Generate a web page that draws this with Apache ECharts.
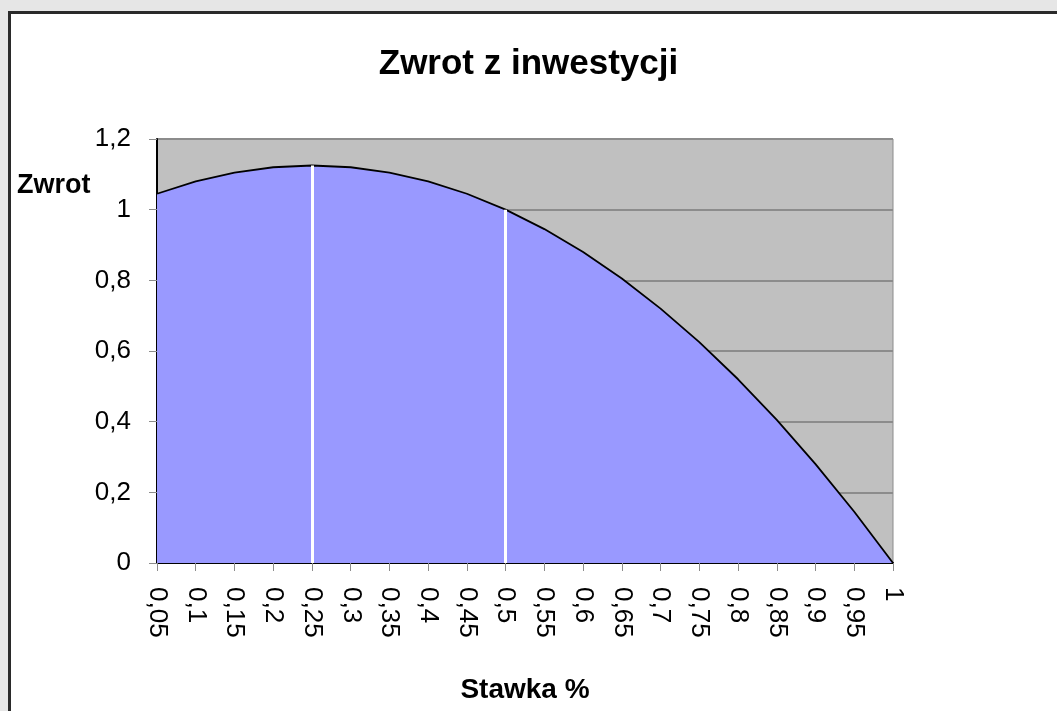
<!DOCTYPE html>
<html>
<head>
<meta charset="utf-8">
<title>Zwrot z inwestycji</title>
<script src="https://cdn.jsdelivr.net/npm/echarts@6/dist/echarts.min.js"></script>
<style>
    body { margin: 0; background: #e6e6e6; overflow: hidden; }
    #frame {
        position: absolute; left: 8px; top: 11px; width: 1060px; height: 710px;
        background: #ffffff; border-top: 3px solid #2a2a2a; border-left: 3px solid #2a2a2a;
    }
    #chart { position: absolute; left: 0; top: 0; width: 1057px; height: 711px; }
</style>
</head>
<body>
<div id="frame"></div>
<div id="chart"></div>
<script>
// Chart data
const stawki = ['0,05', '0,1', '0,15', '0,2', '0,25', '0,3', '0,35', '0,4', '0,45', '0,5',
                '0,55', '0,6', '0,65', '0,7', '0,75', '0,8', '0,85', '0,9', '0,95', '1'];
const zwrot = [1.045, 1.08, 1.105, 1.12, 1.125, 1.12, 1.105, 1.08, 1.045, 1.0,
               0.945, 0.88, 0.805, 0.72, 0.625, 0.52, 0.405, 0.28, 0.145, 0];
// White markers at these categories
const wyroznione = ['0,25', '0,5'];

document.addEventListener('DOMContentLoaded', function() {
    const chart = echarts.init(document.getElementById('chart'));
    const font = 'Liberation Sans, Arial, sans-serif';
    const narrow = 'Liberation Sans Narrow, Arial Narrow, Liberation Sans, sans-serif';

    const markData = wyroznione.map(function(k) {
        const v = zwrot[stawki.indexOf(k)];
        return [{ coord: [k, 0] }, { coord: [k, v] }];
    });

    chart.setOption({
        animation: false,
        title: {
            text: 'Zwrot z inwestycji',
            left: 'center',
            top: 42,
            textStyle: { fontFamily: font, fontSize: 35, fontWeight: 'bold', color: '#000' }
        },
        grid: {
            left: 157, top: 139, width: 736, height: 424,
            outerBoundsMode: 'none',
            containLabel: false,
            show: true, backgroundColor: '#c0c0c0', borderColor: '#8c8c8c', borderWidth: 1
        },
        graphic: [{
            type: 'text', x: 17, y: 186,
            style: { text: 'Zwrot', font: 'bold 27px ' + font, fill: '#000', textVerticalAlign: 'middle' }
        }],
        xAxis: {
            type: 'category',
            data: stawki,
            boundaryGap: false,
            name: 'Stawka %',
            nameLocation: 'middle',
            nameGap: 113,
            nameTextStyle: { fontFamily: font, fontSize: 28, fontWeight: 'bold', color: '#000' },
            axisLine: { lineStyle: { color: '#000', width: 2 } },
            axisTick: { length: 8, lineStyle: { color: '#8c8c8c' } },
            axisLabel: { rotate: -90, margin: 24, fontFamily: font, fontSize: 26, color: '#000', interval: 0 },
            splitLine: { show: false }
        },
        yAxis: {
            type: 'value',
            min: 0, max: 1.2, interval: 0.2,
            axisLine: { show: true, lineStyle: { color: '#000', width: 2 } },
            axisTick: { show: true, length: 8, lineStyle: { color: '#8c8c8c' } },
            axisLabel: {
                margin: 26, fontFamily: narrow, fontSize: 26, color: '#000',
                formatter: function(v) { return String(+v.toFixed(1)).replace('.', ','); }
            },
            splitLine: { show: true, lineStyle: { color: '#8c8c8c', width: 2 } }
        },
        series: [{
            type: 'line',
            data: zwrot,
            symbol: 'none',
            lineStyle: { color: '#000', width: 1.8 },
            areaStyle: { color: '#9999ff', opacity: 1 },
            markLine: {
                silent: true,
                symbol: 'none',
                label: { show: false },
                lineStyle: { color: '#ffffff', width: 3, type: 'solid' },
                data: markData
            }
        }]
    });
});
</script>
</body>
</html>
